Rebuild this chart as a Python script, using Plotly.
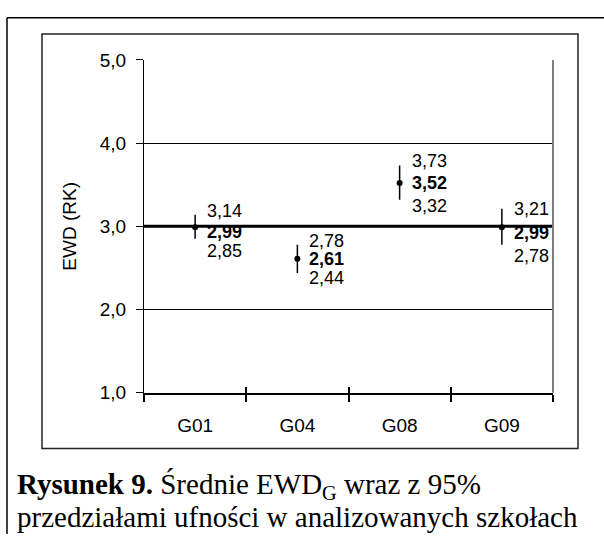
import plotly.graph_objects as go

# ---------------- data ----------------
schools = ["G01", "G04", "G08", "G09"]
means = [2.99, 2.61, 3.52, 2.99]
upper = [3.14, 2.78, 3.73, 3.21]
lower = [2.85, 2.44, 3.32, 2.78]
reference = 3.0
y_range = [1, 5]
y_title = "EWD (RK)"
caption_1 = "<b>Rysunek 9.</b> Średnie EWD<sub>G</sub> wraz z 95%"
caption_2 = "przedziałami ufności w analizowanych szkołach"

# ---------------- style ----------------
W, H = 604, 545
SANS = "Liberation Sans, Arial, sans-serif"
SERIF = "Liberation Serif, Times New Roman, serif"
FS_TICK = 19
FS_LABEL = 18
CAP_FS = 29
# label pixel nudges: upper label moved up, mean / lower labels moved down
nudge_up = [4, 4, 5, 0]
nudge_mid = [5, 0, 0, 6]
nudge_low = [12, 5, 6, 11]
label_dx = 10


def fmt(v):
    return f"{v:.2f}".replace(".", ",")


def px(xp):
    return xp / W


def py(yp):
    return 1 - yp / H


fig = go.Figure()

fig.add_trace(go.Scatter(
    x=schools, y=means, mode="markers",
    marker=dict(color="black", size=6),
    error_y=dict(type="data", symmetric=False,
                 array=[u - m for u, m in zip(upper, means)],
                 arrayminus=[m - l for m, l in zip(means, lower)],
                 color="black", thickness=1.5, width=0),
    showlegend=False, hoverinfo="skip", cliponaxis=False,
))
# invisible trace on secondary x axis (for crossing tick marks)
fig.add_trace(go.Scatter(x=schools, y=[None] * len(schools), xaxis="x2",
                         mode="markers", showlegend=False, hoverinfo="skip"))

label_font = dict(family=SANS, size=FS_LABEL, color="black")
annotations = []
for i, s in enumerate(schools):
    annotations.append(dict(x=s, y=upper[i], xref="x", yref="y", text=fmt(upper[i]),
                            xanchor="left", yanchor="middle", xshift=label_dx,
                            yshift=nudge_up[i], showarrow=False, font=label_font))
    annotations.append(dict(x=s, y=means[i], xref="x", yref="y",
                            text="<b>" + fmt(means[i]) + "</b>",
                            xanchor="left", yanchor="middle", xshift=label_dx,
                            yshift=-nudge_mid[i], showarrow=False, font=label_font))
    annotations.append(dict(x=s, y=lower[i], xref="x", yref="y", text=fmt(lower[i]),
                            xanchor="left", yanchor="middle", xshift=label_dx,
                            yshift=-nudge_low[i], showarrow=False, font=label_font))

annotations.append(dict(x=px(15), y=py(495), xref="paper", yref="paper",
                        text=caption_1, xanchor="left", yanchor="middle",
                        showarrow=False, font=dict(family=SERIF, size=CAP_FS, color="black")))
annotations.append(dict(x=px(15), y=py(527), xref="paper", yref="paper",
                        text=caption_2, xanchor="left", yanchor="middle",
                        showarrow=False, font=dict(family=SERIF, size=CAP_FS, color="black")))

shapes = [
    # outer frame (top + left)
    dict(type="line", xref="paper", yref="paper", x0=px(7), x1=1, y0=py(8), y1=py(8),
         line=dict(color="black", width=1.5)),
    dict(type="line", xref="paper", yref="paper", x0=px(7), x1=px(7), y0=0, y1=py(8),
         line=dict(color="black", width=1.5)),
    # chart box
    dict(type="rect", xref="paper", yref="paper", x0=px(42), x1=px(578), y0=py(456), y1=py(25),
         line=dict(color="#222222", width=1.5)),
    # right border of plot area
    dict(type="line", xref="x domain", yref="y domain", x0=1, x1=1, y0=0, y1=1,
         line=dict(color="#808080", width=2)),
    # reference line
    dict(type="line", xref="x domain", yref="y", x0=0, x1=1, y0=reference, y1=reference,
         line=dict(color="black", width=3), layer="below"),
]

xdom = [px(144), px(553)]
fig.update_layout(
    width=W, height=H,
    margin=dict(l=0, r=0, t=0, b=0),
    paper_bgcolor="white", plot_bgcolor="white",
    separators=", ",
    showlegend=False,
    xaxis=dict(domain=xdom, type="category", categoryorder="array", categoryarray=schools,
               range=[-0.5, len(schools) - 0.5], showline=True, linecolor="black", linewidth=2,
               ticks="outside", ticklen=7, tickwidth=1.5, tickcolor="black",
               tickson="boundaries", showgrid=False, zeroline=False,
               tickfont=dict(family=SANS, size=FS_TICK, color="black"),
               ticklabelstandoff=15, fixedrange=True),
    xaxis2=dict(domain=xdom, type="category", categoryorder="array", categoryarray=schools,
                range=[-0.5, len(schools) - 0.5], overlaying="x", anchor="y", side="bottom",
                ticks="inside", ticklen=6, tickwidth=1.5, tickcolor="black",
                tickson="boundaries", showticklabels=False, showline=False,
                showgrid=False, zeroline=False, fixedrange=True),
    yaxis=dict(domain=[py(398), py(52)], range=y_range, tick0=1, dtick=1,
               tickformat=".1f", showgrid=True, gridcolor="black", gridwidth=1,
               showline=True, linecolor="black", linewidth=1, zeroline=False,
               ticks="outside", ticklen=7, tickwidth=1, tickcolor="black",
               tickfont=dict(family=SANS, size=FS_TICK, color="black"),
               ticklabelstandoff=6,
               title=dict(text=y_title, font=dict(family=SANS, size=FS_TICK, color="black"),
                          standoff=18),
               fixedrange=True),
    annotations=annotations,
    shapes=shapes,
)

fig.write_html("out.html")
